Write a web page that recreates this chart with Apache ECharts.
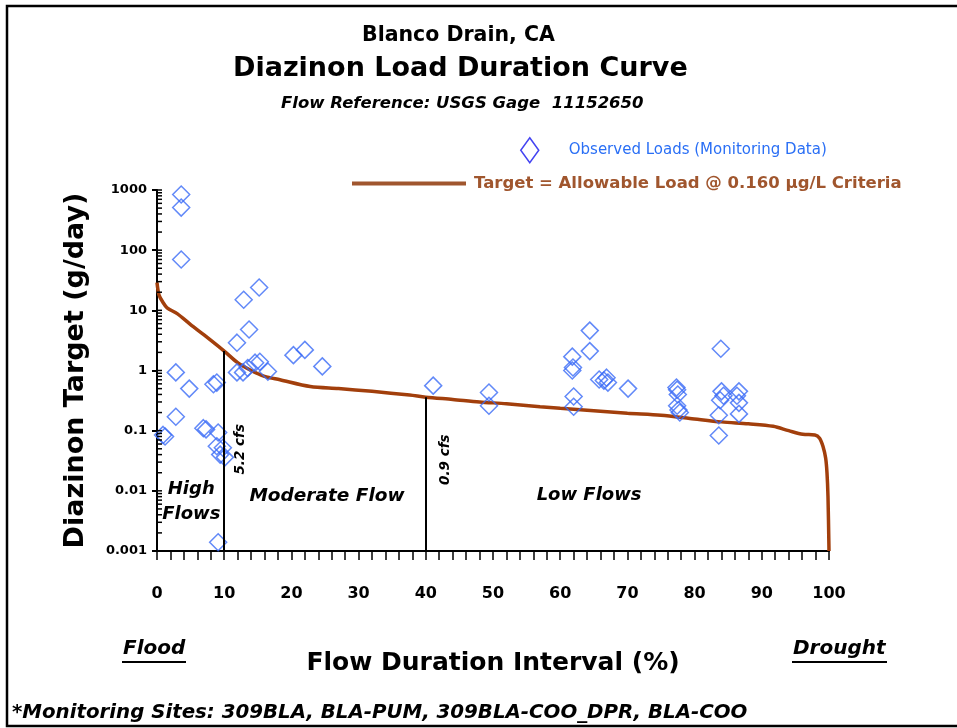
<!DOCTYPE html>
<html>
<head>
<meta charset="utf-8">
<script src="https://cdn.jsdelivr.net/npm/echarts@6/dist/echarts.min.js"></script>
<style>
  html, body { margin: 0; padding: 0; background: #fff; }
  #chart { width: 957px; height: 728px; }
</style>
</head>
<body>
<div id="chart"></div>
<script>
// flow duration interval (%) and allowable load (g/day) of the target curve
var curveX = [0, 0.3, 0.9, 1.5, 3, 5, 7, 10, 12, 14, 16, 18.3, 22.8, 27, 32, 37.6, 40, 44, 48, 52, 57, 60, 65, 70, 75, 79.3, 84, 88, 91.7, 94, 96.1, 97.9, 98.6, 99.1, 99.5, 99.7, 99.85, 100];
var curveY = [29, 18, 13.5, 11, 8.8, 5.8, 3.9, 2.1, 1.35, 1.0, 0.8, 0.7, 0.54, 0.5, 0.45, 0.39, 0.36, 0.33, 0.3, 0.28, 0.25, 0.235, 0.215, 0.195, 0.18, 0.16, 0.14, 0.13, 0.118, 0.1, 0.087, 0.085, 0.075, 0.055, 0.035, 0.02, 0.008, 0.001];

// observed loads (monitoring data)
var obsX = [3.6, 3.6, 3.6, 2.8, 4.8, 2.8, 1.2, 0.9, 6.9, 7.3, 8.4, 8.9, 9.1, 8.9, 9.8, 9.4, 10.1, 9.1,
  11.9, 12.9, 15.2, 13.7, 11.9, 12.8, 13.5, 14.6, 15.3, 16.5, 20.3, 22, 24.6, 41.1, 49.4, 49.4,
  64.4, 64.4, 61.8, 61.9, 61.8, 65.8, 66.9, 67.1, 70.1, 62, 62, 66.5,
  77.4, 77.5, 77.4, 77.8, 77.3, 77.6, 83.9, 84, 86.6, 83.8, 86.6, 83.6, 86.6, 83.6, 84.3, 86.3];
var obsY = [840, 510, 70, 0.93, 0.5, 0.17, 0.08, 0.085, 0.11, 0.105, 0.59, 0.63, 0.093, 0.055, 0.052, 0.04, 0.036, 0.0014,
  2.9, 15, 24, 4.8, 0.93, 0.93, 1.1, 1.35, 1.4, 0.96, 1.8, 2.2, 1.17, 0.56, 0.43, 0.26,
  4.6, 2.1, 1.7, 1.12, 1.0, 0.71, 0.76, 0.63, 0.5, 0.37, 0.25, 0.68,
  0.48, 0.4, 0.26, 0.2, 0.52, 0.22, 2.3, 0.45, 0.45, 0.32, 0.29, 0.18, 0.19, 0.083, 0.38, 0.38];

// flow lines at 5.2 cfs and 0.9 cfs
var flowLineX = [10, 40];
var flowLineTop = [2.1, 0.36];
var flowLineNames = ['5.2 cfs', '0.9 cfs'];

var yTickLabels = ['0.001', '0.01', '0.1', '1', '10', '100', '1000'];
var yDecades = [0.001, 0.01, 0.1, 1, 10, 100];

var FONT = 'DejaVu Sans';
var curveColor = '#a23f0c';
var legendBrown = '#a0562e';
var diamondBlue = '#3b6cf6';

var chart = echarts.init(document.getElementById('chart'));

var obsData = obsX.map(function (x, i) { return [x, obsY[i]]; });
var curveData = curveX.map(function (x, i) { return [x, curveY[i]]; });

// log axis minor ticks (2..9 in each decade) plus inside half of majors
var yMinor = [];
yDecades.forEach(function (d) {
  for (var k = 1; k <= 9; k++) yMinor.push([0, d * k]);
});
yMinor.push([0, 1000]);

var flowMarkLines = flowLineX.map(function (x, i) {
  return [{ coord: [x, 0.001] }, { coord: [x, flowLineTop[i]] }];
});

option = {
  backgroundColor: '#fff',
  animation: false,
  title: [
    { text: 'Blanco Drain, CA', left: 357, top: 20, textStyle: { fontFamily: FONT, fontSize: 20.5, fontWeight: 'bold', color: '#000' } },
    { text: 'Diazinon Load Duration Curve', left: 228, top: 50, textStyle: { fontFamily: FONT, fontSize: 27, fontWeight: 'bold', color: '#000' } },
    { text: 'Flow Reference: USGS Gage  11152650', left: 276, top: 90, textStyle: { fontFamily: FONT, fontSize: 16.5, fontWeight: 'bold', fontStyle: 'italic', color: '#000' } },
    { text: '*Monitoring Sites: 309BLA, BLA-PUM, 309BLA-COO_DPR, BLA-COO', left: 7, top: 698, textStyle: { fontFamily: FONT, fontSize: 19.8, fontWeight: 'bold', fontStyle: 'italic', color: '#000' } }
  ],
  legend: [
    {
      left: 515, top: 132, itemWidth: 18, itemHeight: 25, symbolKeepAspect: false,
      selectedMode: false,
      data: [{ name: 'Observed Loads (Monitoring Data)', icon: 'diamond', itemStyle: { color: 'rgba(0,0,0,0)', borderColor: '#1414ee', borderWidth: 1.5 } }],
      textStyle: { fontFamily: FONT, fontSize: 15, color: '#2a6ff5', padding: [0, 0, 0, 25] }
    },
    {
      left: 347, top: 170, itemWidth: 114, itemHeight: 4,
      selectedMode: false,
      data: [{ name: 'Target = Allowable Load @ 0.160 µg/L Criteria', icon: 'rect', itemStyle: { color: legendBrown } }],
      textStyle: { fontFamily: FONT, fontSize: 16.5, fontWeight: 'bold', color: legendBrown, padding: [0, 0, 0, 3] }
    }
  ],
  grid: { left: 157, top: 190, right: 128, bottom: 177 },
  xAxis: {
    type: 'value', min: 0, max: 100, interval: 10,
    name: 'Flow Duration Interval (%)', nameLocation: 'middle', nameGap: 100,
    nameTextStyle: { fontFamily: FONT, fontSize: 25, fontWeight: 'bold', color: '#000' },
    axisLine: { show: true, onZero: false, lineStyle: { color: '#000', width: 2 } },
    axisTick: { show: true, length: 9, lineStyle: { color: '#000', width: 1.5 } },
    minorTick: { show: true, splitNumber: 5, length: 9, lineStyle: { color: '#000', width: 1.5 } },
    axisLabel: { margin: 35, fontFamily: FONT, fontSize: 16, fontWeight: 'bold', color: '#000' },
    splitLine: { show: false }
  },
  yAxis: {
    type: 'log', logBase: 10, min: 0.001, max: 1000,
    name: 'Diazinon Target (g/day)', nameLocation: 'middle', nameGap: 68,
    nameTextStyle: { fontFamily: FONT, fontSize: 27, fontWeight: 'bold', color: '#000' },
    axisLine: { show: true, lineStyle: { color: '#000', width: 2 } },
    axisTick: { show: true, length: 5, lineStyle: { color: '#000', width: 2 } },
    axisLabel: {
      margin: 10, fontFamily: FONT, fontSize: 13, fontWeight: 'bold', color: '#000',
      formatter: function (v) { return yTickLabels[Math.round(Math.log10(v)) + 3]; }
    },
    splitLine: { show: false }
  },
  series: [
    {
      name: 'Target = Allowable Load @ 0.160 µg/L Criteria',
      type: 'line', data: curveData, showSymbol: false, symbol: 'none', smooth: 0.3,
      lineStyle: { color: curveColor, width: 3.5 },
      itemStyle: { color: curveColor },
      z: 3,
      markLine: {
        silent: true, symbol: ['none', 'none'],
        lineStyle: { color: '#000', width: 2, type: 'solid' },
        label: { show: false },
        data: flowMarkLines
      },
      markPoint: {
        silent: true, symbol: 'circle', symbolSize: 1,
        itemStyle: { color: 'rgba(0,0,0,0)' },
        label: { show: true, position: 'inside', fontFamily: FONT, fontWeight: 'bold', fontStyle: 'italic', color: '#000', fontSize: 18.5, lineHeight: 25 },
        data: [
          { coord: [12.4, 0.049], value: 0, label: { formatter: flowLineNames[0], rotate: 90, fontSize: 13.5 } },
          { coord: [43, 0.033], value: 0, label: { formatter: flowLineNames[1], rotate: 90, fontSize: 13.5 } },
          { coord: [5.1, 0.0066], value: 0, label: { formatter: 'High\nFlows', fontSize: 18 } },
          { coord: [25.3, 0.0083], value: 0, label: { formatter: 'Moderate Flow' } },
          { coord: [64.3, 0.0083], value: 0, label: { formatter: 'Low Flows', fontSize: 18 } }
        ]
      }
    },
    {
      name: 'Observed Loads (Monitoring Data)',
      type: 'scatter', data: obsData, symbol: 'diamond', symbolSize: 17,
      itemStyle: { color: 'rgba(0,0,0,0)', borderColor: diamondBlue, borderWidth: 1.5 },
      z: 4
    },
    {
      type: 'custom', silent: true, data: yMinor, z: 5,
      renderItem: function (params, api) {
        var p = api.coord([api.value(0), api.value(1)]);
        return { type: 'line', shape: { x1: p[0], y1: p[1], x2: p[0] + 5, y2: p[1] }, style: { stroke: '#000', lineWidth: 1.5 } };
      }
    }
  ],
  graphic: [
    { type: 'rect', shape: { x: 7, y: 6, width: 980, height: 720 }, style: { fill: 'none', stroke: '#000', lineWidth: 2.5 }, silent: true },
    { type: 'text', left: 123, top: 639, style: { text: 'Flood', fontFamily: FONT, fontSize: 20, fontWeight: 'bold', fontStyle: 'italic', fill: '#000' } },
    { type: 'line', shape: { x1: 122, y1: 662, x2: 186, y2: 662 }, style: { stroke: '#000', lineWidth: 2 } },
    { type: 'text', left: 793, top: 639, style: { text: 'Drought', fontFamily: FONT, fontSize: 20, fontWeight: 'bold', fontStyle: 'italic', fill: '#000' } },
    { type: 'line', shape: { x1: 792, y1: 662, x2: 887, y2: 662 }, style: { stroke: '#000', lineWidth: 2 } }
  ]
};

chart.setOption(option);
</script>
</body>
</html>
